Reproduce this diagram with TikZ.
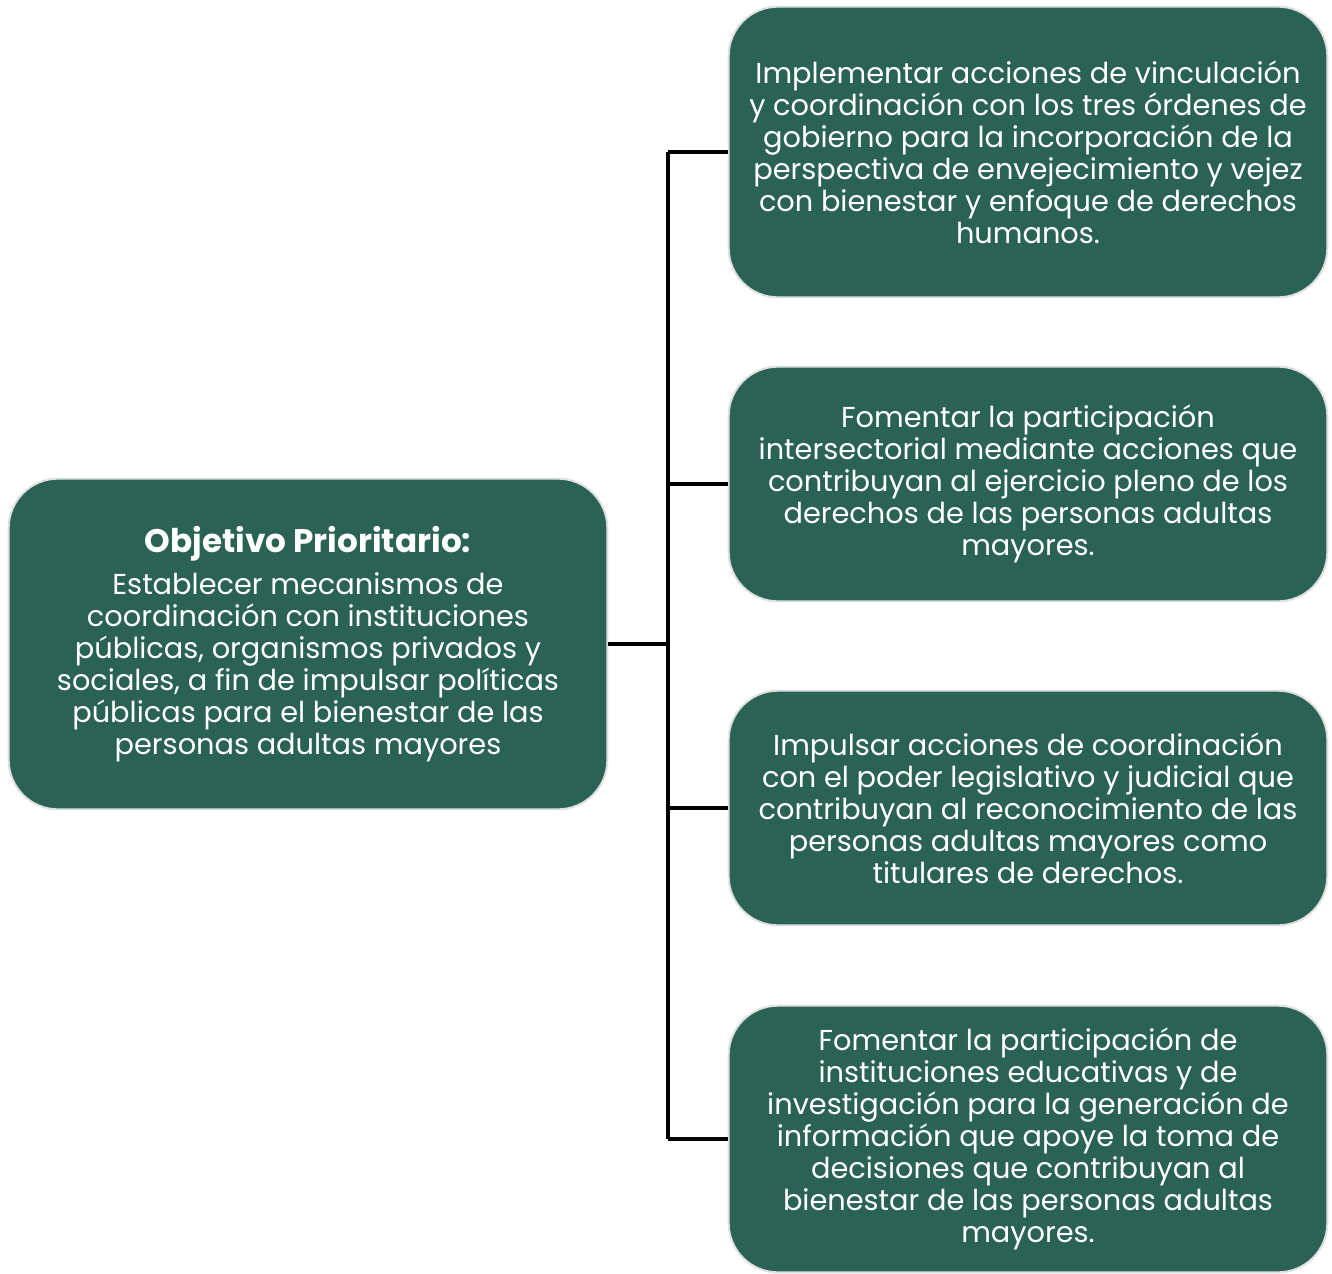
\documentclass[tikz,border=0pt]{standalone}
\usepackage{fontspec}
\setmainfont{Poppins}
\usetikzlibrary{positioning, calc}

\definecolor{boxgreen}{RGB}{42,99,83}

\begin{document}
\begin{tikzpicture}[x=0.75pt, y=-0.75pt,
    greenbox/.style={rounded corners=37pt, fill=boxgreen, draw=gray!25, line width=1.5pt,
        text=white, align=center, minimum width=449pt, inner sep=0pt,
        font=\fontsize{21.6}{24}\selectfont},
    conn/.style={line width=2.6pt, black}]
    \useasboundingbox (0,0) rectangle (1332,1274);
    \node[greenbox, minimum height=248pt] (obj) at (308,644)
        {{\fontsize{24.5}{28}\selectfont\bfseries Objetivo Prioritario:}\\[8pt]
         Establecer mecanismos de\\
         coordinación con instituciones\\
         públicas, organismos privados y\\
         sociales, a fin de impulsar políticas\\
         públicas para el bienestar de las\\
         personas adultas mayores};
    \node[greenbox, minimum height=218pt] (acc1) at (1028,152)
        {Implementar acciones de vinculación\\
         y coordinación con los tres órdenes de\\
         gobierno para la incorporación de la\\
         perspectiva de envejecimiento y vejez\\
         con bienestar y enfoque de derechos\\
         humanos.};
    \node[greenbox, minimum height=176pt] (acc2) at (1028,484)
        {Fomentar la participación\\
         intersectorial mediante acciones que\\
         contribuyan al ejercicio pleno de los\\
         derechos de las personas adultas\\
         mayores.};
    \node[greenbox, minimum height=176pt] (acc3) at (1028,808)
        {Impulsar acciones de coordinación\\
         con el poder legislativo y judicial que\\
         contribuyan al reconocimiento de las\\
         personas adultas mayores como\\
         titulares de derechos.};
    \node[greenbox, minimum height=200pt] (acc4) at (1028,1139)
        {Fomentar la participación de\\
         instituciones educativas y de\\
         investigación para la generación de\\
         información que apoye la toma de\\
         decisiones que contribuyan al\\
         bienestar de las personas adultas\\
         mayores.};
    \coordinate (trunktop) at (668,152);
    \coordinate (trunkbot) at (668,1139);
    \draw[conn] (trunktop) -- (trunkbot);
    \draw[conn] (obj.east) -- (obj.east -| trunktop);
    \foreach \n in {acc1,acc2,acc3,acc4}
        \draw[conn] (\n.west) -- (\n.west -| trunktop);
\end{tikzpicture}
\end{document}
